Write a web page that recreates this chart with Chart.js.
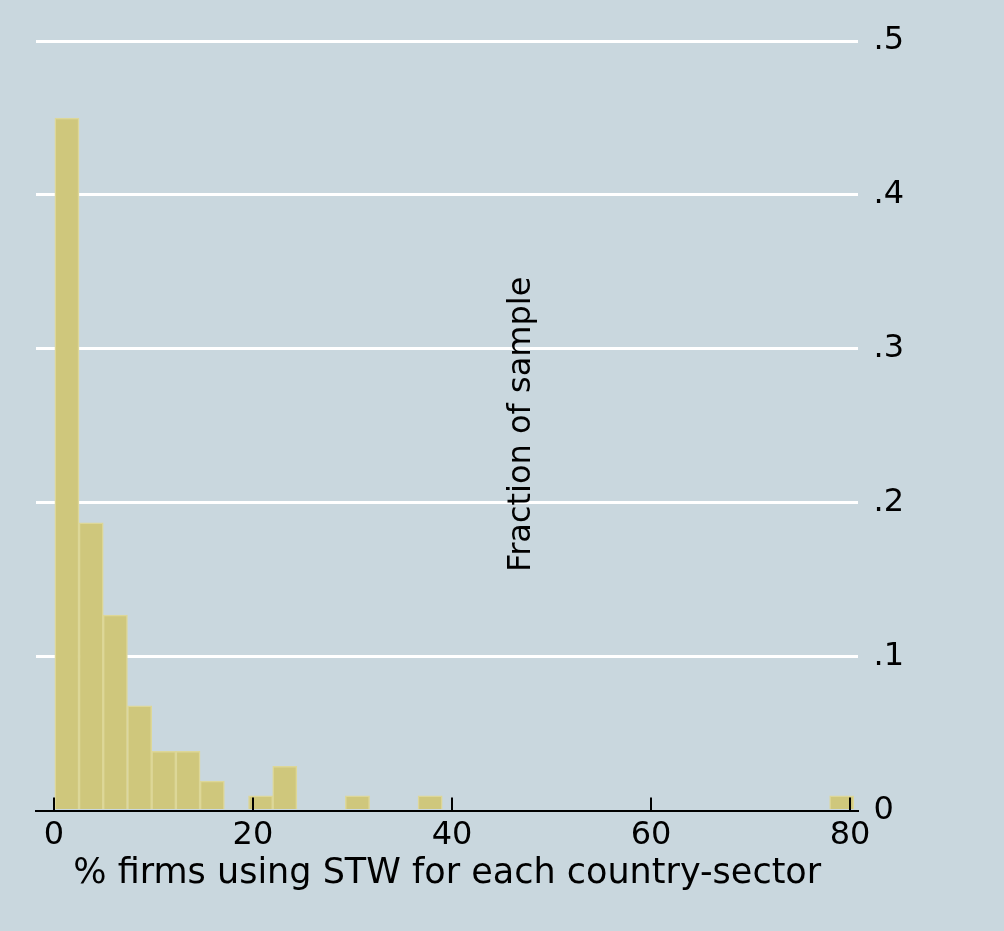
<!DOCTYPE html>
<html lang="en">
<head>
  <meta charset="UTF-8" />
  <title>% firms using STW for each country-sector</title>
  <script src="https://cdn.jsdelivr.net/npm/chart.js"></script>
  <style>
    html, body {
      margin: 0;
      padding: 0;
      background: #c9d7de;
    }
    .wrap {
      width: 1004px;
      height: 931px;
      position: relative;
    }
  </style>
</head>
<body>
  <div class="wrap">
    <canvas id="histChart"></canvas>
  </div>

  <script>
    // histogram bins (midpoints of non-empty bins) and fraction of sample in each
    const binMid = [1.31, 3.74, 6.17, 8.61, 11.04, 13.47, 15.91, 20.77, 23.20, 30.50, 37.80, 79.16];
    const fractions = [0.450, 0.187, 0.127, 0.068, 0.0385, 0.0385, 0.0192, 0.0096, 0.0288, 0.0096, 0.0096, 0.0096];
    const xTicks = [0, 20, 40, 60, 80];
    const yTicks = [0, 0.1, 0.2, 0.3, 0.4, 0.5];
    const xTitle = '% firms using STW for each country-sector';
    const yTitle = 'Fraction of sample';

    const font = 'DejaVu Sans';

    // y title sits inside the plot, tick marks point up into the plot
    const extras = {
      id: 'extras',
      afterDraw(chart) {
        const { ctx, chartArea, scales } = chart;
        ctx.save();
        ctx.strokeStyle = '#000';
        ctx.lineWidth = 2;
        xTicks.forEach(v => {
          const px = Math.round(scales.x.getPixelForValue(v));
          ctx.beginPath();
          ctx.moveTo(px, chartArea.bottom);
          ctx.lineTo(px, chartArea.bottom - 13);
          ctx.stroke();
        });
        const tx = chartArea.left + 0.591 * (chartArea.right - chartArea.left);
        const ty = chartArea.top + 0.498 * (chartArea.bottom - chartArea.top);
        ctx.translate(tx, ty);
        ctx.rotate(-Math.PI / 2);
        ctx.fillStyle = '#000';
        ctx.font = `32px "${font}"`;
        ctx.textAlign = 'center';
        ctx.textBaseline = 'middle';
        ctx.fillText(yTitle, 0, 0);
        ctx.restore();
      }
    };

    new Chart(document.getElementById('histChart'), {
      type: 'bar',
      data: {
        datasets: [{
          data: binMid.map((x, i) => ({ x, y: fractions[i] })),
          backgroundColor: '#cfc77c',
          borderColor: '#ddd798',
          borderWidth: 1.5,
          barPercentage: 1,
          categoryPercentage: 1
        }]
      },
      options: {
        responsive: true,
        maintainAspectRatio: false,
        animation: false,
        layout: { padding: { top: 41, right: 85, left: 36, bottom: 36 } },
        plugins: {
          legend: { display: false },
          tooltip: { enabled: false }
        },
        scales: {
          x: {
            type: 'linear',
            offset: false,
            min: -1.8,
            max: 80.84,
            z: 1,
            afterBuildTicks: s => { s.ticks = xTicks.map(v => ({ value: v })); },
            grid: { display: false, drawTicks: false },
            border: { display: true, color: '#000', width: 2 },
            ticks: {
              color: '#000',
              padding: 6,
              font: { family: font, size: 32 },
              callback: v => String(v)
            },
            title: {
              display: true,
              text: xTitle,
              color: '#000',
              padding: { top: -8, bottom: 0 },
              font: { family: font, size: 35 }
            }
          },
          y: {
            position: 'right',
            min: 0,
            max: 0.5,
            afterBuildTicks: s => { s.ticks = yTicks.map(v => ({ value: v })); },
            border: { display: false },
            grid: {
              drawTicks: false,
              lineWidth: 3,
              color: c => c.tick && c.tick.value === 0 ? 'rgba(0,0,0,0)' : '#ffffff'
            },
            ticks: {
              color: '#000',
              padding: 15,
              font: { family: font, size: 32 },
              callback: v => v === 0 ? '0' : String(+v.toFixed(1)).replace(/^0/, '')
            }
          }
        }
      },
      plugins: [extras]
    });
  </script>
</body>
</html>
